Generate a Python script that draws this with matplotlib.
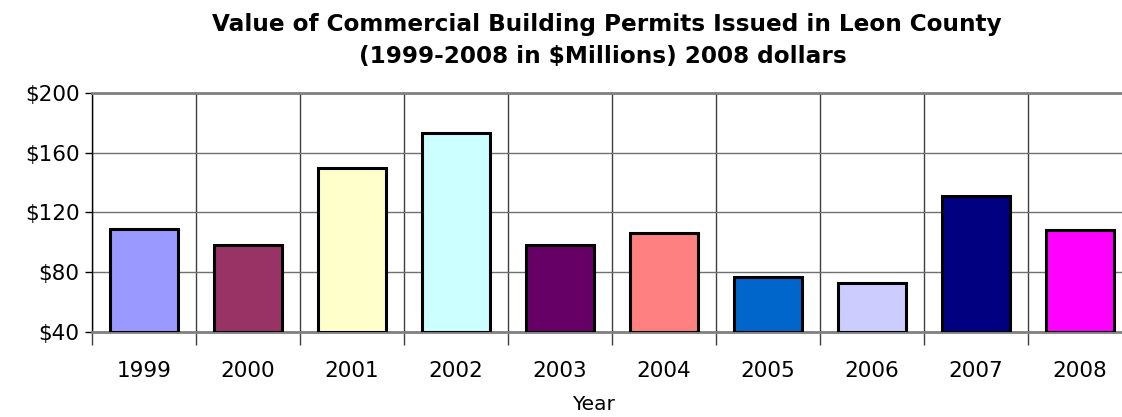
import matplotlib
matplotlib.use('Agg')
import matplotlib.pyplot as plt
import numpy as np

years = ['1999', '2000', '2001', '2002', '2003', '2004', '2005', '2006', '2007', '2008']
values = [109, 98, 150, 173, 98, 106, 77, 73, 131, 108]
colors = ['#9999FF', '#993366', '#FFFFCC', '#CCFFFF', '#660066',
          '#FF8080', '#0066CC', '#CCCCFF', '#000080', '#FF00FF']
yticks = [40, 80, 120, 160, 200]

fig = plt.figure(figsize=(11.22, 4.17), dpi=100)
ax = fig.add_axes([92 / 1122, 85 / 417, 1040 / 1122, 239 / 417])

x = np.arange(len(years))
ax.bar(x, [v - 40 for v in values], bottom=40, width=0.66, color=colors,
       edgecolor='black', linewidth=2.2, zorder=3)

ax.set_xlim(-0.5, len(years) - 0.5)
ax.set_ylim(40, 200)
ax.set_yticks(yticks)
ax.set_yticklabels(['${}'.format(t) for t in yticks], fontsize=15.5)

# category boundaries as vertical gridlines
ax.set_xticks(np.arange(-0.5, len(years)), minor=False)
ax.set_xticklabels([])
ax.set_xticks(x, minor=True)
ax.set_xticklabels(years, minor=True, fontsize=15.5)
ax.tick_params(axis='x', which='minor', length=0, pad=21)
ax.tick_params(axis='x', which='major', length=9, width=1, color='#404040')
ax.tick_params(axis='y', length=5, width=1, pad=4)
ax.grid(axis='x', which='major', color='#404040', linewidth=1, zorder=1)
ax.grid(axis='y', color='#707070', linewidth=1, zorder=1)

ax.spines['right'].set_visible(False)
ax.spines['top'].set_color('#808080')
ax.spines['top'].set_linewidth(2)
ax.spines['bottom'].set_color('#808080')
ax.spines['bottom'].set_linewidth(2)
ax.spines['left'].set_color('black')
ax.spines['left'].set_linewidth(1)

fig.text(607 / 1122, 1 - 24 / 417, 'Value of Commercial Building Permits Issued in Leon County',
         ha='center', va='center', fontsize=16.7, fontweight='bold')
fig.text(603 / 1122, 1 - 56 / 417, '(1999-2008 in $Millions) 2008 dollars',
         ha='center', va='center', fontsize=16.7, fontweight='bold')
fig.text(594 / 1122, 1 - 405 / 417, 'Year', ha='center', va='center', fontsize=14.5)

fig.savefig('out.png', dpi=100)
plt.close()
